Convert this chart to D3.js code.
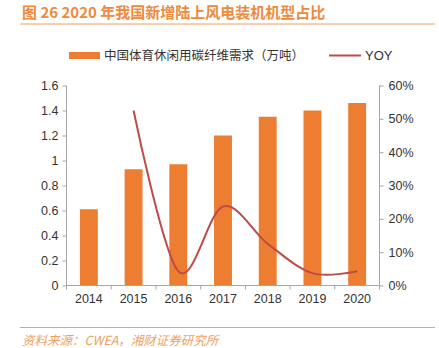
<!DOCTYPE html>
<html>
<head>
<meta charset="utf-8">
<script src="https://cdn.jsdelivr.net/npm/d3@7"></script>
<style>
  body { margin: 0; background: #fff; }
  svg { display: block; font-family: "Liberation Sans", Arial, "Noto Sans CJK SC", sans-serif; }
</style>
</head>
<body>
<div id="chart"></div>
<script>
const years = ['2014', '2015', '2016', '2017', '2018', '2019', '2020']
const demand = [0.61, 0.93, 0.97, 1.2, 1.35, 1.4, 1.46]
const yoyYears = ['2015', '2016', '2017', '2018', '2019', '2020']
const yoy = [0.525, 0.043, 0.237, 0.125, 0.037, 0.043]
const leftTicks = [0, 0.2, 0.4, 0.6, 0.8, 1, 1.2, 1.4, 1.6]
const rightTicks = [0, 0.1, 0.2, 0.3, 0.4, 0.5, 0.6]

const W = 439, H = 348
const cjk = '"Noto Sans CJK SC", sans-serif'

const svg = d3.select('#chart').append('svg')
    .attr('width', W)
    .attr('height', H)

// title + rules
svg.append('text')
    .attr('x', 22).attr('y', 18)
    .attr('fill', '#EE8A3C')
    .attr('font-size', 15)
    .attr('font-weight', 'bold')
    .style('font-family', cjk)
    .text('图 26 2020 年我国新增陆上风电装机机型占比')
svg.append('line').attr('x1', 20).attr('x2', 435).attr('y1', 24).attr('y2', 24)
    .attr('stroke', '#F0A060').attr('stroke-width', 1)
svg.append('line').attr('x1', 20).attr('x2', 435).attr('y1', 327.5).attr('y2', 327.5)
    .attr('stroke', '#F0A060').attr('stroke-width', 1)
svg.append('text')
    .attr('x', 22).attr('y', 345)
    .attr('fill', '#F0A060')
    .attr('font-size', 12.5)
    .attr('font-style', 'italic')
    .style('font-family', cjk)
    .text('资料来源：CWEA，湘财证券研究所')

const x = d3.scaleBand()
    .domain(years)
    .range([66.5, 379.5])
    .paddingInner(0.6)
    .paddingOuter(0.3)

const y = d3.scaleLinear().domain([0, 1.6]).range([285.5, 85.5])
const y2 = d3.scaleLinear().domain([0, 0.6]).range([285.5, 85.5])

const axisColor = '#A6A6A6'
const left = x.range()[0], right = x.range()[1]

// bars
svg.append('g').selectAll('rect')
    .data(demand)
    .join('rect')
    .attr('x', (d, i) => x(years[i]))
    .attr('width', x.bandwidth())
    .attr('y', d => y(d))
    .attr('height', d => y(0) - y(d))
    .attr('fill', '#ED7D31')

// axes
const leftAxis = svg.append('g')
    .attr('transform', `translate(${left},0)`)
    .call(d3.axisLeft(y).tickValues(leftTicks).tickFormat(d3.format('')).tickSize(4).tickPadding(4))
const rightAxis = svg.append('g')
    .attr('transform', `translate(${right},0)`)
    .call(d3.axisRight(y2).tickValues(rightTicks).tickFormat(d3.format('.0%')).tickSize(4).tickPadding(5))
const bottomAxis = svg.append('g')
    .attr('transform', `translate(0,${y(0)})`)
    .call(d3.axisBottom(x).tickSize(0).tickPadding(9))
bottomAxis.selectAll('.tick line').remove()
years.concat(['end']).forEach((yr, i) => {
    const tx = left + i * x.step()
    bottomAxis.append('line')
        .attr('x1', tx).attr('x2', tx).attr('y1', 0).attr('y2', 4)
        .attr('stroke', axisColor)
})

;[leftAxis, rightAxis, bottomAxis].forEach(g => {
    g.select('.domain').attr('stroke', axisColor)
    g.selectAll('.tick line').attr('stroke', axisColor)
    g.selectAll('.tick text').attr('fill', '#333').attr('font-size', 12.5)
        .style('font-family', '"Liberation Sans", Arial, sans-serif')
})
leftAxis.select('.domain').attr('d', `M0,${y(1.6)}V${y(0)}`)
rightAxis.select('.domain').attr('d', `M0,${y(1.6)}V${y(0)}`)
bottomAxis.select('.domain').attr('d', `M${left},0H${right}`)

// yoy line
const line = d3.line()
    .x((d, i) => x(yoyYears[i]) + x.bandwidth() / 2)
    .y(d => y2(d))
    .curve(d3.curveCatmullRom.alpha(0))
svg.append('path')
    .datum(yoy)
    .attr('d', line)
    .attr('fill', 'none')
    .attr('stroke', '#BE4B48')
    .attr('stroke-width', 2)

// legend
const lg = svg.append('g')
lg.append('rect').attr('x', 69).attr('y', 52).attr('width', 31).attr('height', 7).attr('fill', '#ED7D31')
lg.append('text').attr('x', 104).attr('y', 60).attr('font-size', 12.5).attr('fill', '#333')
    .style('font-family', cjk)
    .text('中国体育休闲用碳纤维需求（万吨）')
lg.append('line').attr('x1', 329).attr('x2', 361).attr('y1', 55.5).attr('y2', 55.5)
    .attr('stroke', '#BE4B48').attr('stroke-width', 2)
lg.append('text').attr('x', 365).attr('y', 60).attr('font-size', 13).attr('fill', '#333')
    .text('YOY')
</script>
</body>
</html>
